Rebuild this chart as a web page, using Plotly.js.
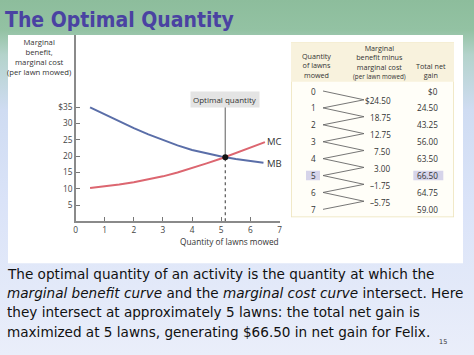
<!DOCTYPE html>
<html><head><meta charset="utf-8">
<script src="https://cdn.plot.ly/plotly-3.0.1.min.js"></script>
<style>
html,body{margin:0;padding:0;}
#chart{width:474px;height:355px;
background:linear-gradient(180deg,#8dbd9c 0px,#93c2a3 30px,#b4d3cb 55px,#cfdcf2 110px,#dae3f8 200px,#e4eaf9 300px,#eaeefa 355px);}
</style></head><body><div id="chart"></div>
<script>
const W = 474, H = 355;
const px = x => x / W, py = y => 1 - y / H;

// ---- curve data ----
const mbQ   = [0.5, 1, 1.5, 2, 2.5, 3, 3.5, 4, 4.5, 5, 5.5, 6, 6.45];
const mbVal = [35.0, 32.8, 30.6, 28.6, 26.7, 25.0, 23.3, 21.9, 20.8, 19.9, 19.1, 18.5, 18.0];
const mcQ   = [0.5, 1, 1.5, 2, 2.5, 3, 3.5, 4, 4.5, 5, 5.5, 6, 6.5];
const mcVal = [10.2, 10.7, 11.3, 12.0, 12.9, 13.8, 15.0, 16.3, 17.8, 19.3, 20.9, 22.6, 24.3];
const optimalQ = 5.14, optimalV = 19.7, optimalLabelV = 35.4;

const xTickVals = [0, 1, 2, 3, 4, 5, 6, 7];
const yTickVals = [5, 10, 15, 20, 25, 30, 35];
const yTickText = ['5', '10', '15', '20', '25', '30', '$35'];

// ---- table data ----
const lawns = [0, 1, 2, 3, 4, 5, 6, 7];
const mbMinusMc = ['$24.50', '18.75', '12.75', '7.50', '3.00', '\u20131.75', '\u20135.75'];
const totalGain = ['$0', '24.50', '43.25', '56.00', '63.50', '66.50', '64.75', '59.00'];
const bestRow = 5;

const chartFont = 'Open Sans, Lato, sans-serif';
const titleFont = 'DejaVu Sans Condensed, DejaVu Sans, sans-serif';
const bodyFont = 'DejaVu Sans, sans-serif';

// column positions inside table (table-axis units)
const colQty = 22.3, zigL = 32, zigR = 73, colMid = 100.7, colTot = 148;

const traces = [];
traces.push({x: mbQ, y: mbVal, mode: 'lines', line: {color: '#5a6ea8', width: 2}, xaxis: 'x', yaxis: 'y', hoverinfo: 'skip'});
traces.push({x: mcQ, y: mcVal, mode: 'lines', line: {color: '#dc6670', width: 2}, xaxis: 'x', yaxis: 'y', hoverinfo: 'skip'});
traces.push({x: [optimalQ, optimalQ], y: [optimalV, optimalLabelV], mode: 'lines', line: {color: '#8a8a8a', width: 1.4}, xaxis: 'x', yaxis: 'y'});
traces.push({x: [optimalQ, optimalQ], y: [0, optimalV], mode: 'lines', line: {color: '#555', width: 1.2, dash: 'dot'}, xaxis: 'x', yaxis: 'y'});
traces.push({x: [optimalQ], y: [optimalV], mode: 'markers', marker: {color: '#111', size: 6}, xaxis: 'x', yaxis: 'y'});

// zigzag in table
const zx = [], zy = [];
lawns.forEach((q, i) => {
  zx.push(zigL); zy.push(i);
  if (i < mbMinusMc.length) { zx.push(zigR); zy.push(i + 0.52); }
});
traces.push({x: zx, y: zy, mode: 'lines', line: {color: '#666', width: 0.9}, xaxis: 'x2', yaxis: 'y2', hoverinfo: 'skip'});

const shapes = [
  {type: 'rect', xref: 'paper', yref: 'paper', x0: px(8), x1: px(463), y0: py(263.3), y1: py(35), fillcolor: '#ffffff', line: {width: 0}, layer: 'below'},
  {type: 'rect', xref: 'x2', yref: 'y2', x0: 0, x1: 163, y0: 7.47, y1: -2.88, fillcolor: '#fffef8', line: {color: '#ece2b8', width: 1.5}, layer: 'below'},
  {type: 'rect', xref: 'x2', yref: 'y2', x0: 0, x1: 163, y0: -0.55, y1: -2.88, fillcolor: '#f8f2dd', line: {width: 0}, layer: 'below'},
  {type: 'rect', xref: 'x2', yref: 'y2', x0: 15, x1: 29, y0: bestRow - 0.28, y1: bestRow + 0.28, fillcolor: '#d6d4ea', line: {width: 0}, layer: 'below'},
  {type: 'rect', xref: 'x2', yref: 'y2', x0: 122.3, x1: 152.3, y0: bestRow - 0.28, y1: bestRow + 0.28, fillcolor: '#d6d4ea', line: {width: 0}, layer: 'below'}
];

const ann = [];
const A = o => ann.push(Object.assign({showarrow: false, borderpad: 0}, o));
// slide title
A({xref: 'paper', yref: 'paper', x: px(4), y: py(20), xanchor: 'left', yanchor: 'middle', text: '<b>The Optimal Quantity</b>', font: {family: titleFont, size: 21, color: '#4a42a2'}});
// y-axis title
A({xref: 'paper', yref: 'paper', x: px(39), y: py(57), xanchor: 'center', yanchor: 'middle', align: 'center',
   text: 'Marginal<br>benefit,<br>marginal cost<br>(per lawn mowed)', font: {family: chartFont, size: 7.7, color: '#333'}});
A({xref: 'paper', yref: 'paper', x: px(279.5), y: py(241), xanchor: 'right', yanchor: 'middle', text: 'Quantity of lawns mowed', font: {family: chartFont, size: 8.3, color: '#333'}});
A({xref: 'x', yref: 'y', x: optimalQ, y: 37.3, xanchor: 'center', yanchor: 'middle', text: 'Optimal quantity', bgcolor: '#e4e4e4', borderpad: 2, font: {family: chartFont, size: 8, color: '#333'}});
A({xref: 'x', yref: 'y', x: 6.55, y: mcVal[mcVal.length - 1] + 0.3, xanchor: 'left', yanchor: 'middle', text: 'MC', font: {family: chartFont, size: 9.5, color: '#333'}});
A({xref: 'x', yref: 'y', x: 6.55, y: mbVal[mbVal.length - 1] - 0.2, xanchor: 'left', yanchor: 'middle', text: 'MB', font: {family: chartFont, size: 9.5, color: '#333'}});

// table headers
const hf = {family: chartFont, size: 7.2, color: '#333'};
A({xref: 'x2', yref: 'y2', x: 25, y: -1.50, xanchor: 'center', yanchor: 'middle', align: 'center', text: 'Quantity<br>of lawns<br>mowed', font: hf});
A({xref: 'x2', yref: 'y2', x: 88, y: -1.74, xanchor: 'center', yanchor: 'middle', align: 'center',
   text: 'Marginal<br>benefit minus<br>marginal cost<br><span style="font-size:6.3px">(per lawn mowed)</span>', font: hf});
A({xref: 'x2', yref: 'y2', x: 139.7, y: -1.24, xanchor: 'center', yanchor: 'middle', align: 'center', text: 'Total net<br>gain', font: hf});
// table body
const bf = {family: chartFont, size: 8.2, color: '#333'};
lawns.forEach((q, i) => {
  A({xref: 'x2', yref: 'y2', x: colQty, y: i, xanchor: 'center', yanchor: 'middle', text: String(q), font: bf});
  A({xref: 'x2', yref: 'y2', x: colTot, y: i, xanchor: 'right', yanchor: 'middle', text: totalGain[i], font: bf});
});
mbMinusMc.forEach((v, i) => {
  A({xref: 'x2', yref: 'y2', x: colMid, y: i + 0.58, xanchor: 'right', yanchor: 'middle', text: v, font: bf});
});

// paragraph text
const para = [
  'The optimal quantity of an activity is the quantity at which the',
  '<i>marginal benefit curve</i> and the <i>marginal cost curve</i> intersect. Here',
  'they intersect at approximately 5 lawns: the total net gain is',
  'maximized at 5 lawns, generating $66.50 in net gain for Felix.'
];
const paraY = [273.5, 293, 312.3, 331.5];
para.forEach((t, i) => A({xref: 'paper', yref: 'paper', x: px(5.5), y: py(paraY[i]), xanchor: 'left', yanchor: 'middle', text: t, font: {family: bodyFont, size: 13.6, color: '#111'}}));
A({xref: 'paper', yref: 'paper', x: px(443), y: py(342), xanchor: 'center', yanchor: 'middle', text: '15', font: {family: bodyFont, size: 6.5, color: '#333'}});

const layout = {
  width: W, height: H,
  margin: {l: 0, r: 0, t: 0, b: 0},
  paper_bgcolor: 'rgba(0,0,0,0)', plot_bgcolor: 'rgba(0,0,0,0)',
  showlegend: false,
  xaxis: {domain: [px(75.5), px(279.5)], range: [0, 7], tickvals: xTickVals, ticks: 'inside', ticklen: 4, tickcolor: '#777',
          showline: true, linecolor: '#8a8a8a', linewidth: 1.3, showgrid: false, zeroline: false,
          tickfont: {family: chartFont, size: 8.3, color: '#444'}, anchor: 'y', fixedrange: true},
  yaxis: {domain: [py(221.3), py(35)], range: [0, 57.2], tickvals: yTickVals, ticktext: yTickText, ticks: 'inside', ticklen: 4, tickcolor: '#777',
          showline: true, linecolor: '#8a8a8a', linewidth: 1.3, showgrid: false, zeroline: false,
          tickfont: {family: chartFont, size: 8.3, color: '#444'}, anchor: 'x', fixedrange: true},
  xaxis2: {domain: [px(291), px(454)], range: [0, 163], visible: false, anchor: 'y2', fixedrange: true},
  yaxis2: {domain: [py(217.3), py(42.3)], range: [7.47, -2.88], visible: false, anchor: 'x2', fixedrange: true},
  shapes: shapes,
  annotations: ann
};
Plotly.newPlot('chart', traces, layout, {displayModeBar: false, staticPlot: true});
</script></body></html>
